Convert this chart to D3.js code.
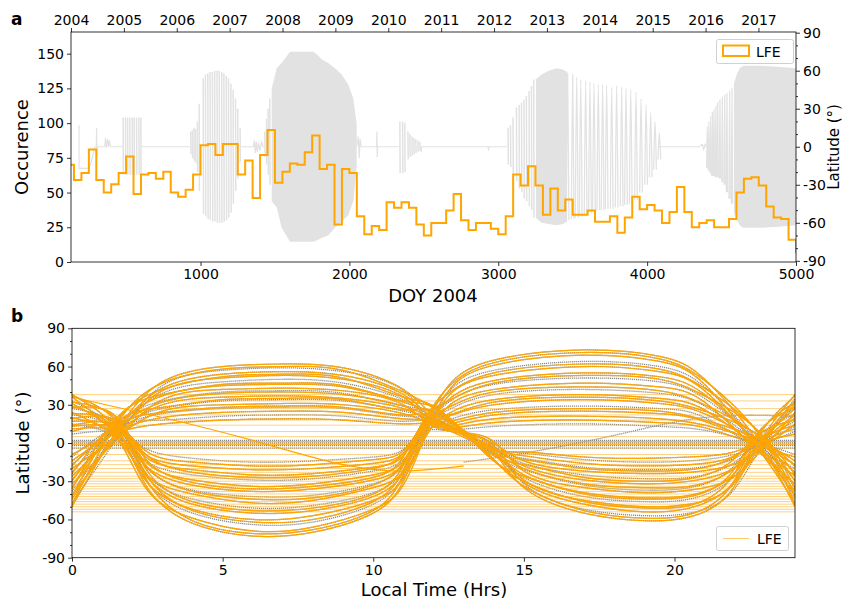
<!DOCTYPE html>
<html>
<head>
<meta charset="utf-8">
<script src="https://cdn.jsdelivr.net/npm/d3@7"></script>
<style>
  body { margin: 0; background: #fff; }
  text { font-family: "DejaVu Sans", sans-serif; fill: #000; }
</style>
</head>
<body>
<svg id="chart" width="848" height="599"></svg>
<script>
// ---------------- Panel a data ----------------
// LFE occurrence per 50-day bin, first bin starts at DOY 100
const lfeBinStart = 100;
const lfeBinWidth = 50;
const lfeCounts = [70,
  59, 64, 81, 59, 50, 56, 64, 76, 49, 63,
  64, 60, 65, 50, 47, 52, 63, 84, 85, 77,
  85, 85, 63, 73, 46, 77, 95, 57, 65, 71,
  70, 79, 91, 67, 70, 27, 67, 64, 33, 20,
  26, 23, 43, 39, 43, 39, 27, 19, 28, 28,
  37, 49, 30, 23, 28, 28, 24, 20, 33, 63,
  55, 69, 55, 34, 53, 37, 45, 34, 34, 37,
  29, 29, 33, 21, 32, 47, 38, 41, 37, 28,
  36, 54, 36, 25, 28, 30, 25, 25, 31, 50,
  60, 61, 55, 40, 32, 31, 16, 7];

const yearTicks = [2004, 2005, 2006, 2007, 2008, 2009, 2010, 2011, 2012, 2013, 2014, 2015, 2016, 2017];
const doyTicks = [1000, 2000, 3000, 4000, 5000];
const countTicks = [0, 25, 50, 75, 100, 125, 150];
const latTicks = [-90, -60, -30, 0, 30, 60, 90];

// Spacecraft latitude: quiet near-equatorial stretches [doy, lat]
const latQuiet = [
  [[184, 17], [184, -17], [246, -17], [262, -14], [278, -6], [291, 0], [300, 0], [302, 15], [304, -7], [308, 0],
   [356, 0], [362, 7], [368, -1], [376, 6], [382, 0], [388, 5], [394, 0], [479, 0]],
  [[600, 0], [929, 0]],
  [[1270, 0], [1355, 0], [1362, 5], [1368, -5], [1375, 4], [1382, -4], [1390, 3], [1400, -3], [1410, 4], [1420, 0], [1433, 0]],
  [[2049, 0], [2060, 8], [2066, -9], [2072, 6], [2080, 0], [2183, 0], [2185, 12], [2187, -8], [2190, 0], [2340, 0]],
  [[2474, 0], [2481, -4], [2486, 0], [2931, 0], [2934, -3], [2938, 0], [3060, 0]],
  [[4082, 0], [4350, 0], [4370, 2], [4380, -2], [4390, 2], [4400, 0]]
];
// periapsis swings [doy, max lat, min lat]
const latSwings = [
  [481, 23, -22], [497, 23, -22], [511, 23, -22], [526, 23, -22], [542, 23, -22], [555, 23, -22], [571, 23, -22], [587, 23, -22], [600, 23, -22],
  [935, 12, -6], [946, 13, -9], [957, 15, -11], [968, 14, -13], [980, 20, -20], [992, 34, -35],
  [1019, 54, -53], [1034, 57, -55], [1050, 58, -57], [1065, 59, -58], [1081, 59, -59], [1096, 60, -59], [1112, 60, -60], [1127, 60, -60],
  [1143, 59, -60], [1158, 58, -59], [1174, 56, -58], [1189, 54, -56], [1205, 50, -52], [1220, 45, -45], [1236, 38, -35], [1251, 30, -25], [1267, 15, -12],
  [1433, 12, -8], [1444, 22, -14], [1455, 30, -22], [1466, 38, -30],
  [2340, 20, -21], [2358, 20, -21], [2373, 19, -20], [2394, 12, -10], [2407, 10, -8], [2421, 8, -7], [2434, 7, -6], [2447, 6, -5], [2461, 5, -4], [2474, 4, -3],
  [3067, 15, -14], [3083, 17, -16], [3100, 23, -22], [3123, 31, -27], [3141, 33, -33], [3157, 35, -36], [3174, 37, -41], [3190, 40, -43], [3208, 44, -47], [3224, 48, -50], [3239, 53, -56]
];
// rounded swings of the later inclined phases [doy, max lat, min lat]
const latArcs2013 = [
  [3466, 58, -58], [3500, 57, -57], [3527, 55, -56], [3554, 53, -55], [3587, 52, -54], [3616, 51, -52], [3643, 50, -51],
  [3672, 49, -50], [3701, 49, -50], [3728, 48, -49], [3762, 47, -49], [3795, 48, -48], [3829, 47, -47], [3858, 46, -46],
  [3890, 45, -45], [3925, 43, -42], [3959, 38, -36], [3993, 33, -30], [4024, 27, -24], [4053, 20, -18], [4082, 11, -10]
];
const latArcs2016 = [
  [4404, 16, -17], [4415, 20, -19], [4427, 24, -21], [4438, 27, -23], [4449, 29, -23], [4462, 32, -24], [4474, 35, -24],
  [4489, 37, -25], [4505, 39, -28], [4521, 41, -30], [4536, 42, -36], [4554, 44, -41], [4570, 46, -45]
];
// densely sampled phases drawn as envelopes [doy, max lat, min lat]
const latBand2008 = [[1478, 46, -43], [1512, 62, -48], [1545, 66, -64], [1601, 75, -75], [1757, 75, -75], [1780, 73, -74],
  [1814, 69, -72], [1858, 66, -70], [1903, 62, -64], [1948, 57, -59], [1993, 49, -54], [2026, 38, -43], [2049, 18, -16]];
const latBand2013 = [[3253, 53, -56], [3290, 57, -60], [3340, 60, -61], [3392, 62, -62], [3435, 61, -61], [3462, 59, -59]];
const latBand2016 = [[4583, 50, -52], [4605, 58, -58], [4623, 62, -62], [4645, 64, -64], [4760, 64, -64], [4900, 63, -63], [5000, 62, -62]];

// ---------------- Panel b data ----------------
const ltTicks = [0, 5, 10, 15, 20];
// orbit family with the northern excursion before noon: latitude at shared local-time knots
const fam1Knots = [0, 1.5, 3, 5, 7, 9, 11, 12.2, 13.8, 15, 17, 19, 20.5, 21.8, 22.8, 24];
const fam1Tracks = [
  [-50, 10, 48, 60, 62, 59, 42, 18, -3, -35, -55, -61, -58, -40, 0, 38],
  [-48, 16, 47, 58, 60, 57, 40, 24, -8, -34, -53, -59, -56, -36, 6, 37],
  [-47, 4, 45, 57, 59, 56, 41, 12, 2, -32, -52, -57, -55, -41, -6, 35],
  [-44, 9, 43, 54, 56, 53, 38, 16, -2, -31, -48, -54, -51, -35, -1, 33],
  [-42, 18, 42, 52, 54, 51, 36, 26, -9, -30, -46, -51, -49, -30, 8, 32],
  [-41, 6, 41, 51, 53, 50, 36, 13, 1, -29, -45, -50, -48, -36, -4, 31],
  [-38, 8, 39, 48, 50, 47, 34, 17, -5, -27, -42, -46, -44, -30, -2, 29],
  [-36, 20, 38, 46, 47, 45, 33, 25, -10, -26, -40, -44, -42, -26, 9, 28],
  [-35, 13, 37, 45, 46, 44, 32, 21, -3, -25, -39, -43, -41, -28, 0, 27],
  [-32, 3, 34, 42, 43, 41, 30, 11, 4, -22, -35, -39, -37, -29, -8, 24],
  [-30, 15, 33, 40, 41, 39, 29, 22, -6, -21, -33, -37, -35, -22, 5, 23],
  [-29, 11, 32, 39, 40, 38, 29, 16, -4, -20, -32, -35, -34, -23, -1, 22],
  [-26, 7, 30, 36, 37, 35, 27, 14, -1, -18, -29, -32, -30, -22, -5, 20],
  [-24, 17, 28, 34, 35, 34, 26, 23, -7, -17, -27, -30, -28, -16, 7, 18],
  [-23, 12, 27, 33, 34, 33, 25, 17, -2, -16, -25, -28, -27, -18, 0, 17],
  [-20, 5, 25, 30, 31, 30, 23, 13, 2, -14, -22, -24, -23, -18, -6, 15],
  [-18, 14, 24, 28, 29, 28, 22, 20, -5, -13, -20, -22, -21, -13, 3, 14],
  [-17, 11, 23, 27, 28, 27, 21, 17, -4, -12, -19, -21, -20, -14, -1, 13],
  [-14, 9, 20, 24, 25, 24, 19, 15, -3, -10, -16, -18, -17, -12, 1, 11],
  [-11, 13, 18, 21, 22, 21, 17, 16, -2, -8, -13, -15, -14, -10, -2, 9],
  [-9, 8, 15, 18, 19, 18, 15, 13, -4, -7, -11, -12, -11, -8, 0, 7]
];
const fam1Lfe = [1, 1, 0, 1, 1, 1, 0, 1, 1, 1, 0, 1, 1, 1, 0, 1, 1, 0, 1, 0, 1];
// orbit family with the southern excursion before noon
const fam2Knots = [0, 1.5, 2.5, 4, 6, 8, 10, 11, 11.7, 12.5, 14, 17, 19.5, 21, 22.8, 24];
const fam2Tracks = [
  [38, 10, -35, -63, -73, -70, -55, -30, 10, 45, 65, 73, 68, 50, 0, -50],
  [37, 16, -30, -61, -71, -68, -53, -25, 16, 44, 63, 71, 66, 49, 7, -48],
  [36, 4, -37, -59, -69, -66, -52, -33, 4, 41, 61, 69, 64, 46, -5, -47],
  [33, 9, -31, -55, -64, -62, -48, -26, 8, 40, 57, 64, 60, 44, -1, -44],
  [32, 18, -26, -53, -62, -60, -46, -21, 18, 39, 55, 62, 58, 43, 8, -42],
  [31, 6, -31, -52, -60, -57, -45, -28, 5, 37, 53, 60, 56, 41, -4, -41],
  [29, 10, -27, -48, -55, -53, -42, -23, 9, 34, 49, 55, 52, 38, -2, -38],
  [28, 20, -22, -46, -53, -51, -40, -17, 19, 33, 47, 53, 50, 37, 9, -36],
  [27, 13, -25, -44, -51, -49, -39, -21, 11, 32, 46, 51, 48, 35, 0, -35],
  [24, 3, -26, -40, -47, -45, -35, -23, 3, 29, 42, 47, 44, 32, -7, -32],
  [23, 15, -19, -38, -44, -43, -33, -15, 15, 28, 40, 44, 41, 30, 5, -30],
  [22, 11, -20, -37, -42, -41, -32, -17, 12, 26, 38, 42, 39, 29, -1, -29],
  [20, 7, -19, -33, -38, -36, -29, -17, 6, 23, 34, 38, 35, 26, -4, -26],
  [19, 17, -14, -31, -36, -34, -27, -11, 17, 22, 32, 36, 33, 25, 6, -25],
  [17, 12, -16, -29, -34, -32, -25, -14, 11, 21, 30, 34, 31, 23, 0, -23],
  [15, 5, -15, -25, -29, -28, -22, -13, 7, 18, 26, 29, 27, 20, -5, -20],
  [14, 14, -10, -23, -27, -26, -20, -8, 14, 17, 24, 27, 25, 18, 3, -18],
  [13, 11, -12, -21, -25, -24, -19, -10, 12, 15, 22, 25, 23, 17, -1, -17],
  [11, 9, -10, -18, -21, -20, -16, -8, 10, 13, 19, 21, 19, 14, 1, -14],
  [9, 13, -7, -15, -18, -17, -13, -6, 13, 12, 16, 18, 16, 12, -2, -11],
  [7, 8, -5, -12, -15, -14, -11, -5, 9, 10, 13, 15, 13, 10, 0, -9]
];
const fam2Lfe = [1, 1, 1, 0, 1, 1, 1, 1, 0, 1, 1, 0, 1, 1, 1, 0, 1, 1, 1, 1, 0];
// low-inclination tracks [lt, lat]
const flatTracksGray = [
  [[0, 0], [24, 0]], [[0, -2], [24, -2]], [[0, -4], [24, -4]], [[0, 2], [24, 2]],
  [[13, -15], [15, -8], [18, 6], [21, 20], [24, 21]]
];
const flatTracksLfe = [
  [[0, -1], [24, -1]], [[0, 1], [24, 1]],
  [[0, 36], [3, 20], [6, 2], [8.8, -16], [11, -22], [13, -18]]
];
// constant-latitude LFE segments spanning all local times
const lfeLevels = [38, 33, 27, 22, 18, 14, 9, 5, -4, -9, -14, -17, -20, -23, -26, -28, -30, -32, -34, -36, -38,
  -40, -42, -44, -46, -48, -50, -52, -54];

// ---------------- drawing ----------------
const ORANGE = "#ffa500";
const svg = d3.select("#chart");
const fmtInt = d => (d < 0 ? "-" + Math.abs(d) : String(d));

function styleAxis(g) {
  g.selectAll(".domain").remove();
  g.selectAll(".tick line").attr("stroke", "#000").attr("stroke-width", 0.8);
  g.selectAll(".tick text").style("font-size", "14px").style("font-family", "DejaVu Sans, sans-serif").attr("fill", "#000");
}

// ---- Panel a ----
const A = {left: 71, right: 796, top: 32, bottom: 262};
const xA = d3.scaleLinear().domain([130, 5000]).range([A.left, A.right]);
const yCount = d3.scaleLinear().domain([0, 165.6]).range([A.bottom, A.top]);
const yLatA = d3.scaleLinear().domain([-90, 90]).range([260.8, 32.7]);
const xYear = d3.scaleLinear().domain([2004, 2017.71]).range([A.left, A.right]);

svg.append("clipPath").attr("id", "clipA").append("rect")
  .attr("x", A.left).attr("y", A.top).attr("width", A.right - A.left).attr("height", A.bottom - A.top);
const gA = svg.append("g").attr("clip-path", "url(#clipA)");

const GRAY_T = "#e2e2e2";
const latLine = d3.line().x(d => xA(d[0])).y(d => yLatA(d[1]));
[latBand2008, latBand2013, latBand2016].forEach(band => {
  gA.append("path")
    .attr("d", d3.area().x(d => xA(d[0])).y0(d => yLatA(d[2])).y1(d => yLatA(d[1]))(band))
    .attr("fill", GRAY_T);
});
latQuiet.forEach(seg => {
  gA.append("path").attr("d", latLine(seg)).attr("fill", "none").attr("stroke", GRAY_T).attr("stroke-width", 1.2);
});
latSwings.forEach(s => {
  gA.append("path").attr("d", latLine([[s[0] - 1, s[1]], [s[0] + 1, s[2]]]))
    .attr("fill", "none").attr("stroke", GRAY_T).attr("stroke-width", 1.5);
});
const arcLine = d3.line().x(d => xA(d[0])).y(d => yLatA(d[1])).curve(d3.curveNatural);
latArcs2013.forEach(s => {
  gA.append("path").attr("d", arcLine([[s[0] - 9, s[2]], [s[0], s[1]], [s[0] + 9, s[2]]]))
    .attr("fill", "none").attr("stroke", GRAY_T).attr("stroke-width", 1.3);
});
latArcs2016.forEach(s => {
  gA.append("path").attr("d", arcLine([[s[0] - 4, s[2]], [s[0], s[1]], [s[0] + 4, s[2]]]))
    .attr("fill", "none").attr("stroke", GRAY_T).attr("stroke-width", 1.3);
});

// LFE step histogram
const histPts = [[lfeBinStart, 0]];
lfeCounts.forEach((c, i) => {
  histPts.push([lfeBinStart + i * lfeBinWidth, c]);
  histPts.push([lfeBinStart + (i + 1) * lfeBinWidth, c]);
});
histPts.push([lfeBinStart + lfeCounts.length * lfeBinWidth, 0]);
gA.append("path")
  .attr("d", d3.line().x(d => xA(d[0])).y(d => yCount(d[1]))(histPts))
  .attr("fill", "none").attr("stroke", ORANGE).attr("stroke-width", 2).attr("stroke-linejoin", "miter");

svg.append("rect").attr("x", A.left).attr("y", A.top).attr("width", A.right - A.left).attr("height", A.bottom - A.top)
  .attr("fill", "none").attr("stroke", "#000").attr("stroke-width", 0.8);

svg.append("g").attr("transform", `translate(0,${A.bottom})`)
  .call(d3.axisBottom(xA).tickValues(doyTicks).tickFormat(fmtInt).tickSize(4).tickPadding(3).tickSizeOuter(0)).call(styleAxis);
svg.append("g").attr("transform", `translate(${A.left},0)`)
  .call(d3.axisLeft(yCount).tickValues(countTicks).tickFormat(fmtInt).tickSize(4).tickPadding(3).tickSizeOuter(0)).call(styleAxis);
svg.append("g").attr("transform", `translate(0,${A.top})`)
  .call(d3.axisTop(xYear).tickValues(yearTicks).tickFormat(fmtInt).tickSize(4).tickPadding(3).tickSizeOuter(0)).call(styleAxis);
svg.append("g").attr("transform", `translate(${A.right},0)`)
  .call(d3.axisRight(yLatA).tickValues(latTicks).tickFormat(fmtInt).tickSize(4).tickPadding(3).tickSizeOuter(0)).call(styleAxis);
svg.append("g").attr("transform", `translate(${A.right},0)`)
  .call(d3.axisRight(yLatA).tickValues(d3.range(-80, 90, 10).filter(v => v % 30 !== 0)).tickSize(2).tickFormat("").tickSizeOuter(0)).call(styleAxis);

const legA = svg.append("g");
legA.append("rect").attr("x", 716.5).attr("y", 39.5).attr("width", 77).attr("height", 24).attr("rx", 2)
  .attr("fill", "#fff").attr("fill-opacity", 0.8).attr("stroke", "#d0d0d0");
legA.append("rect").attr("x", 723).attr("y", 45.5).attr("width", 26).attr("height", 10.5)
  .attr("fill", "none").attr("stroke", ORANGE).attr("stroke-width", 2);
legA.append("text").attr("x", 756).attr("y", 56.5).style("font-size", "14px").text("LFE");

svg.append("text").attr("x", 11).attr("y", 25).style("font-size", "17px").style("font-weight", "bold").text("a");
svg.append("text").attr("transform", "translate(28,147) rotate(-90)").attr("text-anchor", "middle").style("font-size", "18px").text("Occurence");
svg.append("text").attr("x", 433).attr("y", 302).attr("text-anchor", "middle").style("font-size", "18px").text("DOY 2004");
svg.append("text").attr("transform", "translate(839,147) rotate(-90)").attr("text-anchor", "middle").style("font-size", "15px").text("Latitude (°)");

// ---- Panel b ----
const B = {left: 72, right: 795, top: 328.3, bottom: 557.7};
const xB = d3.scaleLinear().domain([0, 24]).range([B.left, B.right]);
const yB = d3.scaleLinear().domain([-90, 90]).range([B.bottom, B.top]);
svg.append("clipPath").attr("id", "clipB").append("rect")
  .attr("x", B.left).attr("y", B.top).attr("width", B.right - B.left).attr("height", B.bottom - B.top);
const gB = svg.append("g").attr("clip-path", "url(#clipB)");

const trackLine = d3.line().x(d => xB(d[0])).y(d => yB(d[1])).curve(d3.curveNatural);
const GRAY_B = "#8a8a8a";
const knotsToPts = (knots, lats) => knots.map((k, i) => [k, lats[i]]);

// every orbit track in gray, drawn with a fine hatch
const grayTrack = p => gB.append("path").attr("d", trackLine(p)).attr("fill", "none")
  .attr("stroke", GRAY_B).attr("stroke-width", 1.3).attr("stroke-dasharray", "1.2,0.8");
fam1Tracks.forEach(t => grayTrack(knotsToPts(fam1Knots, t)));
fam2Tracks.forEach(t => grayTrack(knotsToPts(fam2Knots, t)));
flatTracksGray.forEach(t => grayTrack(t));

// constant-latitude LFE segments
lfeLevels.forEach(v => gB.append("line").attr("x1", B.left).attr("x2", B.right).attr("y1", yB(v)).attr("y2", yB(v))
  .attr("stroke", ORANGE).attr("stroke-opacity", 0.5).attr("stroke-width", 1));

// LFE portions of the tracks
const lfeTrack = p => gB.append("path").attr("d", trackLine(p)).attr("fill", "none")
  .attr("stroke", ORANGE).attr("stroke-width", 1.2);
fam1Tracks.forEach((t, i) => { if (fam1Lfe[i]) lfeTrack(knotsToPts(fam1Knots, t)); });
fam2Tracks.forEach((t, i) => { if (fam2Lfe[i]) lfeTrack(knotsToPts(fam2Knots, t)); });
flatTracksLfe.forEach(t => lfeTrack(t));

svg.append("rect").attr("x", B.left).attr("y", B.top).attr("width", B.right - B.left).attr("height", B.bottom - B.top)
  .attr("fill", "none").attr("stroke", "#000").attr("stroke-width", 0.8);

svg.append("g").attr("transform", `translate(0,${B.bottom})`)
  .call(d3.axisBottom(xB).tickValues(ltTicks).tickFormat(fmtInt).tickSize(4).tickPadding(3).tickSizeOuter(0)).call(styleAxis);
svg.append("g").attr("transform", `translate(${B.left},0)`)
  .call(d3.axisLeft(yB).tickValues(latTicks).tickFormat(fmtInt).tickSize(4).tickPadding(3).tickSizeOuter(0)).call(styleAxis);
svg.append("g").attr("transform", `translate(${B.left},0)`)
  .call(d3.axisLeft(yB).tickValues(d3.range(-80, 90, 10).filter(v => v % 30 !== 0)).tickSize(2).tickFormat("").tickSizeOuter(0)).call(styleAxis);

const legB = svg.append("g");
legB.append("rect").attr("x", 716.5).attr("y", 526.5).attr("width", 72).attr("height", 24).attr("rx", 2)
  .attr("fill", "#fff").attr("fill-opacity", 0.8).attr("stroke", "#d0d0d0");
legB.append("line").attr("x1", 723).attr("x2", 749).attr("y1", 538.5).attr("y2", 538.5)
  .attr("stroke", ORANGE).attr("stroke-opacity", 0.6).attr("stroke-width", 1);
legB.append("text").attr("x", 757).attr("y", 544).style("font-size", "14px").text("LFE");

svg.append("text").attr("x", 11).attr("y", 322).style("font-size", "17px").style("font-weight", "bold").text("b");
svg.append("text").attr("transform", "translate(29,443) rotate(-90)").attr("text-anchor", "middle").style("font-size", "18px").text("Latitude (°)");
svg.append("text").attr("x", 434).attr("y", 596).attr("text-anchor", "middle").style("font-size", "18px").text("Local Time (Hrs)");
</script>
</body>
</html>
